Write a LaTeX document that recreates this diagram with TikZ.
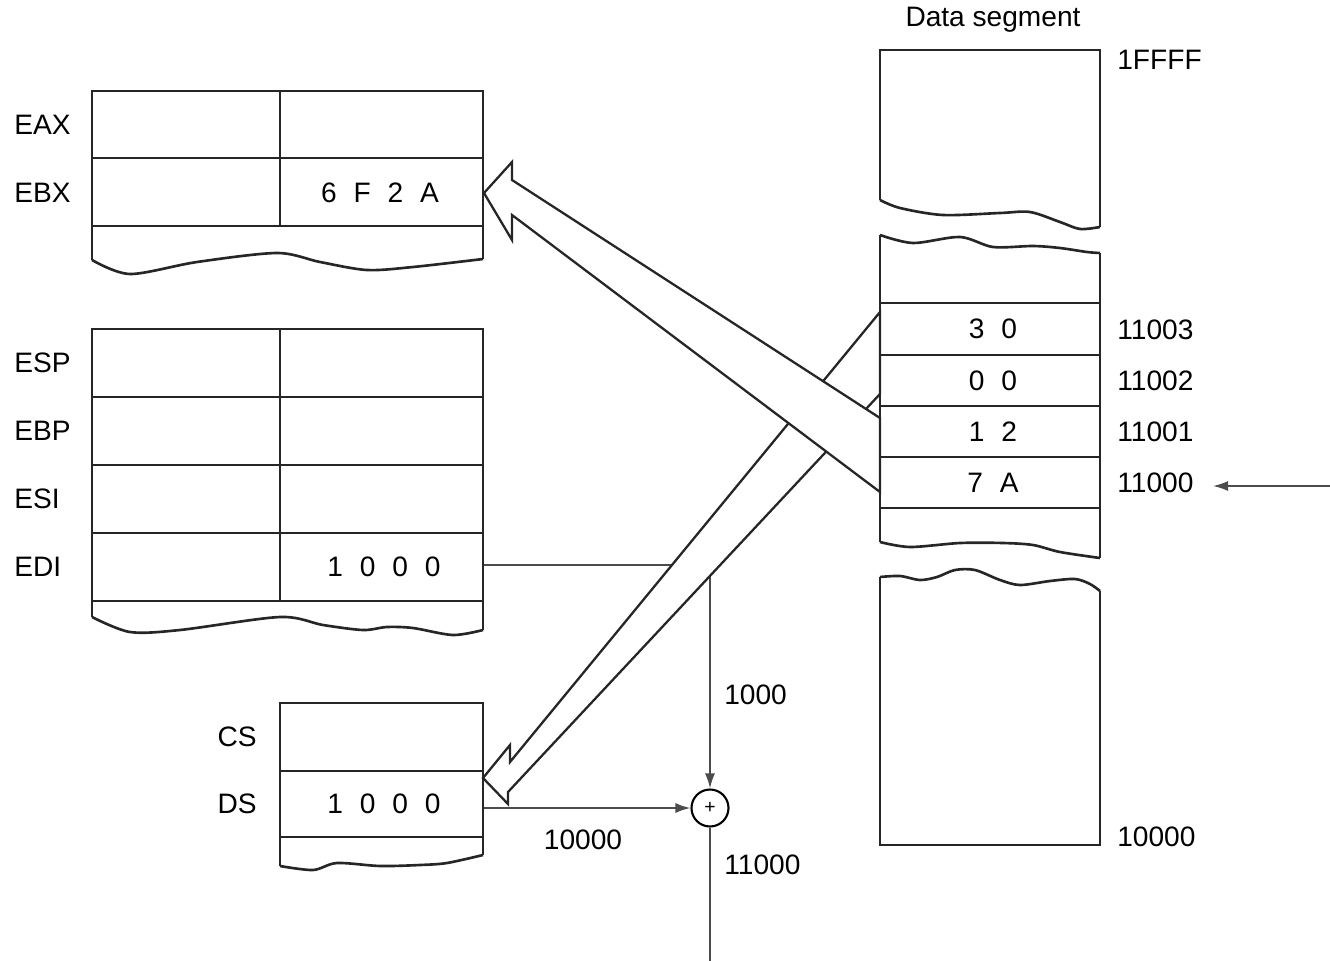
\documentclass[tikz,border=0pt]{standalone}
\usepackage{fontspec}
\setmainfont{Liberation Sans}
\usetikzlibrary{arrows.meta}
\newcommand{\bgap}{\hspace{0.6em}}

\begin{document}
\begin{tikzpicture}[x=0.02cm,y=-0.02cm,>={Latex[length=0.3cm,width=0.2cm]},
                    font=\fontsize{16}{19}\selectfont]
  \tikzstyle{box}=[line width=1.5pt, draw=black!85]
  \tikzstyle{conn}=[line width=1pt, draw=black!70]
  \tikzstyle{big}=[line width=1.3pt, draw=black!85, fill=white]
  \tikzstyle{reg}=[anchor=west, inner sep=0pt]
  \tikzstyle{seg}=[anchor=east, inner sep=0pt]
  \tikzstyle{val}=[anchor=center, inner sep=0pt]
  \tikzstyle{addr}=[anchor=west, inner sep=0pt]

  \useasboundingbox (0,0) rectangle (1330,961);

  % adder and its lines
  \coordinate (ediR) at (483,565);
  \coordinate (dsR)  at (483,808);
  \coordinate (sumD) at (710,961);
  \coordinate (inR)  at (1330,486);
  \coordinate (inL)  at (1213,486);
  \node[draw, circle, line width=1.2pt, minimum size=0.74cm, inner sep=0pt,
        font=\fontsize{11}{11}\selectfont] (add) at (710,808) {+};

  \draw[conn,->] (ediR) -| (add);
  \draw[conn,->] (dsR) -- (add);
  \draw[conn] (add) -- (sumD);
  \draw[conn,->] (inR) -- (inL);

  \node[addr] (offL) at (724,695) {1000};
  \node[val]  (baseL) at (583,840) {10000};
  \node[addr] (sumL) at (724,865) {11000};

  % wide arrows
  \filldraw[big] (880,312) -- (510,762) -- (510,745) -- (483,778) -- (508,804)
                 -- (508,792) -- (880,394) -- cycle;
  \filldraw[big] (880,418) -- (512,180) -- (512,162) -- (484,193) -- (512,240)
                 -- (512,215) -- (880,492) -- cycle;

  % EAX, EBX
  \draw[box] (92,260) -- (92,91) -- (483,91) -- (483,259);
  \draw[box] plot[smooth] coordinates {(92,260) (130,274) (197,262) (277,253)
                 (320,262) (367,270) (413,267) (483,259)};
  \draw[box] (92,158) -- (483,158) (92,226) -- (483,226) (280,91) -- (280,226);

  % ESP .. EDI
  \draw[box] (92,617) -- (92,329) -- (483,329) -- (483,630);
  \draw[box] plot[smooth] coordinates {(92,617) (130,632) (180,630) (280,617)
                 (323,625) (363,630) (387,627) (413,628) (453,635) (483,630)};
  \draw[box] (92,397) -- (483,397) (92,465) -- (483,465) (92,533) -- (483,533)
             (92,601) -- (483,601) (280,329) -- (280,601);

  % CS, DS
  \draw[box] (280,866) -- (280,703) -- (483,703) -- (483,855);
  \draw[box] plot[smooth] coordinates {(280,866) (313,870) (337,863) (380,866)
                 (420,865) (447,863) (483,855)};
  \draw[box] (280,771) -- (483,771) (280,837) -- (483,837);

  \node[reg] (eaxL) at (14,125) {EAX};
  \node[reg] (ebxL) at (14,193) {EBX};
  \node[reg] (espL) at (14,363) {ESP};
  \node[reg] (ebpL) at (14,431) {EBP};
  \node[reg] (esiL) at (14,499) {ESI};
  \node[reg] (ediL) at (14,567) {EDI};
  \node[seg] (csL)  at (257,737) {CS};
  \node[seg] (dsL)  at (257,804) {DS};

  \node[val] (ebx) at (380,193) {6\bgap F\bgap 2\bgap A};
  \node[val] (edi) at (384,567) {1\bgap 0\bgap 0\bgap 0};
  \node[val] (ds)  at (384,804) {1\bgap 0\bgap 0\bgap 0};

  % data segment
  \draw[box] (880,200) -- (880,50) -- (1100,50) -- (1100,227);
  \draw[box] plot[smooth] coordinates {(880,200) (900,208) (943,215) (1000,213)
                 (1030,212) (1060,222) (1080,229) (1100,227)};
  \draw[box] (880,235) -- (880,542) (1100,253) -- (1100,558);
  \draw[box] plot[smooth] coordinates {(880,235) (913,243) (960,237) (993,247)
                 (1033,246) (1060,248) (1087,252) (1100,253)};
  \draw[box] plot[smooth] coordinates {(880,542) (910,547) (960,543) (1003,543)
                 (1033,545) (1060,552) (1100,558)};
  \draw[box] (880,303) -- (1100,303) (880,355) -- (1100,355) (880,406) -- (1100,406)
             (880,457) -- (1100,457) (880,508) -- (1100,508);
  \draw[box] (880,577) -- (880,845) -- (1100,845) -- (1100,591);
  \draw[box] plot[smooth] coordinates {(880,577) (900,576) (920,580) (937,577)
                 (955,570) (975,570) (1000,580) (1020,585) (1050,581) (1075,579)
                 (1090,584) (1100,591)};

  \node[val] (segT) at (993,20) {Data segment};
  \node[val] (m3) at (993,329) {3\bgap 0};
  \node[val] (m2) at (993,381) {0\bgap 0};
  \node[val] (m1) at (993,432) {1\bgap 2};
  \node[val] (m0) at (993,483) {7\bgap A};

  \node[addr] (aTop) at (1117,60)  {1FFFF};
  \node[addr] (a3)   at (1117,330) {11003};
  \node[addr] (a2)   at (1117,381) {11002};
  \node[addr] (a1)   at (1117,432) {11001};
  \node[addr] (a0)   at (1117,483) {11000};
  \node[addr] (aBot) at (1117,837) {10000};
\end{tikzpicture}
\end{document}
